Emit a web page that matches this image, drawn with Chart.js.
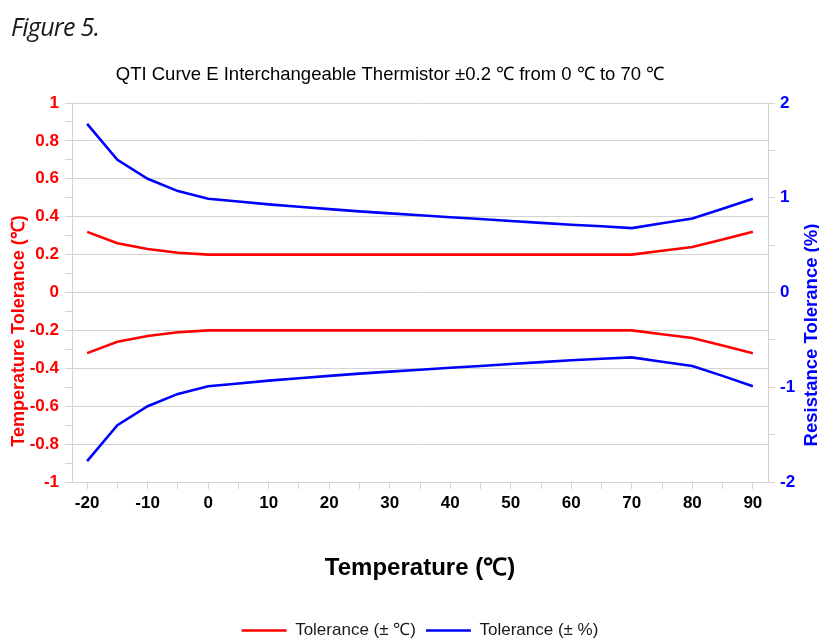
<!DOCTYPE html>
<html>
<head>
<meta charset="utf-8">
<script src="https://cdn.jsdelivr.net/npm/chart.js@4.4.0/dist/chart.umd.min.js"></script>
<style>
html,body{margin:0;padding:0;background:#fff;}
#wrap{position:relative;width:819px;height:639px;overflow:hidden;}
#fig{position:absolute;left:11px;top:14px;font-family:"Open Sans",sans-serif;font-style:italic;font-size:25px;line-height:24px;color:#1a1a1a;letter-spacing:-0.7px;}
canvas{position:absolute;left:0;top:0;}
</style>
</head>
<body>
<div id="wrap">
<canvas id="c" width="819" height="639"></canvas>
<div id="fig">Figure 5.</div>
</div>
<script>
// ---- data ----
const temps = [-20,-15,-10,-5,0,5,10,15,20,25,30,35,40,45,50,55,60,65,70,75,80,85,90];
const tolCUpper = [0.32,0.26,0.23,0.21,0.20,0.20,0.20,0.20,0.20,0.20,0.20,0.20,0.20,0.20,0.20,0.20,0.20,0.20,0.20,0.22,0.24,0.28,0.32];
const tolCLower = [-0.32,-0.26,-0.23,-0.21,-0.20,-0.20,-0.20,-0.20,-0.20,-0.20,-0.20,-0.20,-0.20,-0.20,-0.20,-0.20,-0.20,-0.20,-0.20,-0.22,-0.24,-0.28,-0.32];
const tolPctUpper = [1.78,1.40,1.20,1.07,0.99,0.96,0.93,0.905,0.88,0.856,0.835,0.815,0.795,0.775,0.755,0.735,0.715,0.70,0.68,0.73,0.78,0.885,0.99];
const tolPctLower = [-1.78,-1.40,-1.20,-1.07,-0.99,-0.96,-0.93,-0.905,-0.88,-0.856,-0.835,-0.815,-0.795,-0.775,-0.755,-0.735,-0.715,-0.70,-0.685,-0.73,-0.775,-0.88,-0.99];
const seriesLabelC = 'Tolerance (± ℃)';
const seriesLabelPct = 'Tolerance (± %)';
const chartTitle = 'QTI Curve E Interchangeable Thermistor ±0.2 ℃ from 0 ℃ to 70 ℃';
const xTitle = 'Temperature (℃)';
const yLeftTitle = 'Temperature Tolerance (℃)';
const yRightTitle = 'Resistance Tolerance (%)';

const FAMILY = '"Liberation Sans", Arial, Helvetica, sans-serif';
Chart.defaults.font.family = FAMILY;

const RED = '#ff0000', BLUE = '#0000ff', GRID = '#d4d4d4';

function pts(arr){ return temps.map((t,i)=>({x:t, y:arr[i]})); }
function ds(label, arr, color, axis){
  return {label, data: pts(arr), borderColor: color, backgroundColor: color, borderWidth: 2.6,
          pointRadius: 0, pointHoverRadius: 0, tension: 0, fill: false, yAxisID: axis};
}

const textPlugin = {
  id: 'extraTexts',
  afterDraw(chart){
    const c = chart.ctx;
    c.save();
    c.textAlign = 'center';
    c.textBaseline = 'middle';
    c.fillStyle = '#000';
    c.font = '18.5px ' + FAMILY;
    c.fillText(chartTitle, 390, 75);
    c.font = 'bold 18px ' + FAMILY;
    c.fillStyle = RED;
    c.save(); c.translate(19.5, 331); c.rotate(-Math.PI/2); c.fillText(yLeftTitle, 0, 0); c.restore();
    c.font = 'bold 18.5px ' + FAMILY;
    c.fillStyle = BLUE;
    c.save(); c.translate(811.5, 335); c.rotate(-Math.PI/2); c.fillText(yRightTitle, 0, 0); c.restore();
    c.restore();
  }
};

new Chart(document.getElementById('c'), {
  type: 'line',
  data: { datasets: [
    ds(seriesLabelC, tolCUpper, RED, 'y'),
    ds(seriesLabelPct, tolPctUpper, BLUE, 'y1'),
    ds(seriesLabelC, tolCLower, RED, 'y'),
    ds(seriesLabelPct, tolPctLower, BLUE, 'y1')
  ]},
  plugins: [textPlugin],
  options: {
    responsive: false,
    animation: false,
    layout: { padding: { top: 103, bottom: -10, left: 0, right: 0 } },
    plugins: {
      title: { display: false },
      tooltip: { enabled: false },
      legend: {
        position: 'bottom', fullSize: false,
        labels: {
          usePointStyle: true, pointStyle: 'line', pointStyleWidth: 45,
          font: { size: 17 }, color: '#1a1a1a', padding: 10,
          filter: (item) => item.datasetIndex < 2
        }
      }
    },
    scales: {
      x: {
        type: 'linear', min: -22.5, max: 92.5,
        afterBuildTicks(s){ s.ticks = temps.map(v => ({value: v})); },
        afterFit(s){ s.height = 130; },
        ticks: { autoSkip: false, maxRotation: 0, padding: 4, color: '#000',
                 font: { size: 17, weight: 'bold' },
                 callback: (v) => (v % 10 === 0 ? String(v) : '') },
        grid: { drawOnChartArea: false, tickLength: 7, color: GRID },
        border: { color: GRID },
        title: { display: true, text: xTitle, color: '#000',
                 font: { size: 24, weight: 'bold' }, padding: { top: 0, bottom: 29.6 } }
      },
      y: {
        position: 'left', min: -1, max: 1,
        afterFit(s){ s.width = 72; },
        ticks: { stepSize: 0.1, autoSkip: false, padding: 6, color: RED,
                 font: { size: 17, weight: 'bold' },
                 callback: (v) => (Math.abs(Math.round(v*10)) % 2 === 0 ? String(Math.round(v*10)/10) : '') },
        grid: { tickLength: 7, tickColor: GRID,
                color: (ctx) => (ctx.tick && Math.abs(Math.round(ctx.tick.value*10)) % 2 === 0 ? GRID : 'rgba(0,0,0,0)') },
        border: { color: GRID }
      },
      y1: {
        position: 'right', min: -2, max: 2,
        afterFit(s){ s.width = 51; },
        ticks: { stepSize: 0.5, autoSkip: false, padding: 5, color: BLUE,
                 font: { size: 17, weight: 'bold' },
                 callback: (v) => (Number.isInteger(v) ? String(v) : '') },
        grid: { drawOnChartArea: false, tickLength: 7, color: GRID },
        border: { color: GRID }
      }
    }
  }
});
</script>
</body>
</html>
